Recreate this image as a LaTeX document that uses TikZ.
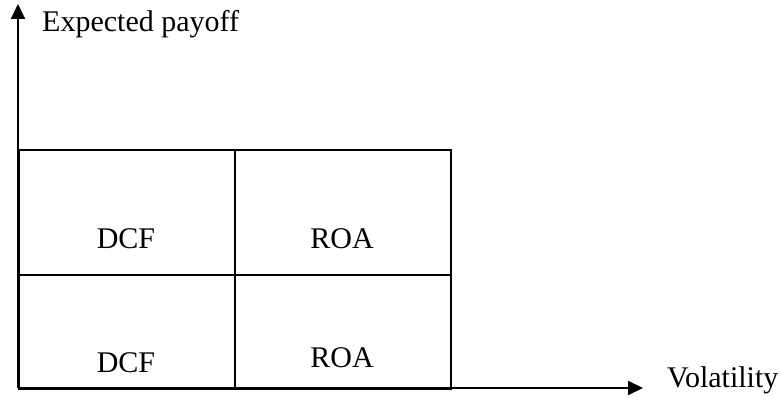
\documentclass[tikz,border=0pt]{standalone}
\usepackage{fontspec}
\setmainfont{Liberation Serif}
\usetikzlibrary{arrows.meta}
\begin{document}
\begin{tikzpicture}[x=1pt,y=-1pt,
  axis/.style={line width=1.8pt,-{Triangle[length=15pt,width=14pt]}},
  cell/.style={draw,line width=1.8pt,minimum width=216pt,inner sep=0pt,anchor=north west},
  lbl/.style={font=\fontsize{30}{33}\selectfont,inner sep=0pt}]
\useasboundingbox (0,0) rectangle (781,398);
% quadrant cells
\node[cell,minimum height=125pt] (c11) at (18,149) {};
\node[cell,minimum height=125pt] (c12) at (234,149) {};
\node[cell,minimum height=114pt] (c21) at (18,274) {};
\node[cell,minimum height=114pt] (c22) at (234,274) {};
% axes
\coordinate (o) at (18,388);
\coordinate (ytip) at (18,4);
\coordinate (xtip) at (643,388);
\draw[axis] (o) -- (ytip);
\draw[axis] (o) -- (xtip);
% texts
\node[lbl,anchor=base west] (ylab) at (42,32) {Expected payoff};
\node[lbl,anchor=base west] (xlab) at (667,387) {Volatility};
\node[lbl,anchor=base] (t11) at (126,248) {DCF};
\node[lbl,anchor=base] (t12) at (342,248) {ROA};
\node[lbl,anchor=base] (t21) at (126,372) {DCF};
\node[lbl,anchor=base] (t22) at (342,367) {ROA};
\end{tikzpicture}
\end{document}
